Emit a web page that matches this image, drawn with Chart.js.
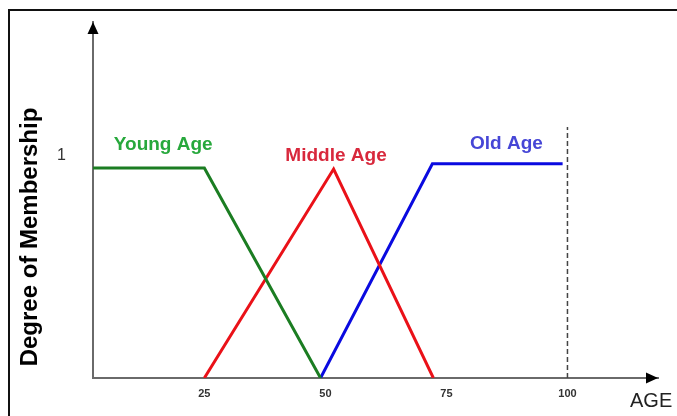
<!DOCTYPE html>
<html><head><meta charset="utf-8">
<script src="https://cdn.jsdelivr.net/npm/chart.js@4"></script>
<style>html,body{margin:0;padding:0;background:#fff}#wrap{width:677px;height:416px;position:relative}</style>
</head><body><div id="wrap"><canvas id="c"></canvas></div>
<script>
// ---- data ----
const ageTicks = [25, 50, 75, 100];
const membershipTicks = [1];
const youngAge = [2, 25, 49];
const youngMembership = [1, 1, 0];
const middleAge = [25, 51.7, 72.3];
const middleMembership = [0, 0.995, 0];
const oldAge = [49, 72.1, 99];
const oldMembership = [0, 1.02, 1.02];
const limitAge = [100, 100];
const limitMembership = [0, 1.195];
const seriesNames = ['Young Age', 'Middle Age', 'Old Age'];
const xTitle = 'AGE';
const yTitle = 'Degree of Membership';

const FONT = 'Arial, "Liberation Sans", sans-serif';
const pts = (xs, ys) => xs.map((x, i) => ({x, y: ys[i]}));

const labelStyle = [
  {x: 16.5, y: 1.085, color: '#27a83c'},
  {x: 52.2, y: 1.035, color: '#d8283c'},
  {x: 87.4, y: 1.088, color: '#4646d6'}
];

const decor = {
  id: 'decor',
  beforeDraw(chart) {
    const ctx = chart.ctx;
    ctx.save();
    ctx.fillStyle = '#fff';
    ctx.fillRect(0, 0, chart.width, chart.height);
    ctx.strokeStyle = '#111';
    ctx.lineWidth = 2;
    ctx.beginPath();
    ctx.moveTo(9, chart.height);
    ctx.lineTo(9, 10);
    ctx.lineTo(chart.width, 10);
    ctx.stroke();
    ctx.restore();
  },
  afterDraw(chart) {
    const ctx = chart.ctx, a = chart.chartArea;
    const xs = chart.scales.x, ys = chart.scales.y;
    ctx.save();
    // arrow heads
    ctx.fillStyle = '#000';
    ctx.beginPath();
    ctx.moveTo(a.left, a.top);
    ctx.lineTo(a.left - 5.5, a.top + 12);
    ctx.lineTo(a.left + 5.5, a.top + 12);
    ctx.closePath(); ctx.fill();
    ctx.beginPath();
    ctx.moveTo(a.right, a.bottom);
    ctx.lineTo(a.right - 12, a.bottom - 5.5);
    ctx.lineTo(a.right - 12, a.bottom + 5.5);
    ctx.closePath(); ctx.fill();
    // series labels
    ctx.font = 'bold 19px ' + FONT;
    ctx.textAlign = 'center';
    ctx.textBaseline = 'alphabetic';
    seriesNames.forEach((n, i) => {
      const s = labelStyle[i];
      ctx.fillStyle = s.color;
      ctx.fillText(n, xs.getPixelForValue(s.x), ys.getPixelForValue(s.y));
    });
    // x title
    ctx.font = '20px ' + FONT;
    ctx.fillStyle = '#222';
    ctx.textAlign = 'left';
    ctx.fillText(xTitle, 630, 407);
    // y title
    ctx.translate(37, 237);
    ctx.rotate(-Math.PI / 2);
    ctx.font = 'bold 24px ' + FONT;
    ctx.fillStyle = '#000';
    ctx.textAlign = 'center';
    ctx.fillText(yTitle, 0, 0);
    ctx.restore();
  }
};

new Chart(document.getElementById('c'), {
  type: 'scatter',
  data: {
    datasets: [
      {label: seriesNames[0], data: pts(youngAge, youngMembership), borderColor: '#1b7d22'},
      {label: seriesNames[1], data: pts(middleAge, middleMembership), borderColor: '#ea1118'},
      {label: seriesNames[2], data: pts(oldAge, oldMembership), borderColor: '#0a0ae0'},
      {label: 'limit', data: pts(limitAge, limitMembership), borderColor: '#444', borderWidth: 1.5, borderDash: [5, 3]}
    ].map(d => Object.assign({showLine: true, pointRadius: 0, borderWidth: 3, tension: 0, fill: false, borderCapStyle: 'butt'}, d))
  },
  options: {
    responsive: true,
    maintainAspectRatio: false,
    animation: false,
    layout: {padding: {top: 22, right: 19, left: 0, bottom: 0}},
    plugins: {legend: {display: false}, tooltip: {enabled: false}},
    scales: {
      x: {
        type: 'linear', min: 2, max: 118.7,
        afterBuildTicks: s => { s.ticks = ageTicks.map(v => ({value: v})); },
        afterFit: s => { s.height = 38; s.paddingLeft = 0; s.paddingRight = 0; },
        grid: {display: false, drawTicks: false},
        border: {display: true, color: '#6a6a6a', width: 2},
        ticks: {font: {family: FONT, size: 11, weight: 'bold'}, color: '#333', padding: 9, maxRotation: 0}
      },
      y: {
        type: 'linear', min: 0, max: 1.695,
        afterBuildTicks: s => { s.ticks = membershipTicks.map(v => ({value: v})); },
        afterFit: s => { s.width = 93; s.paddingTop = 0; s.paddingBottom = 0; },
        grid: {display: false, drawTicks: false},
        border: {display: true, color: '#6a6a6a', width: 2},
        ticks: {font: {family: FONT, size: 16}, color: '#333', padding: 27, labelOffset: -12}
      }
    }
  },
  plugins: [decor]
});
</script>
</body></html>
